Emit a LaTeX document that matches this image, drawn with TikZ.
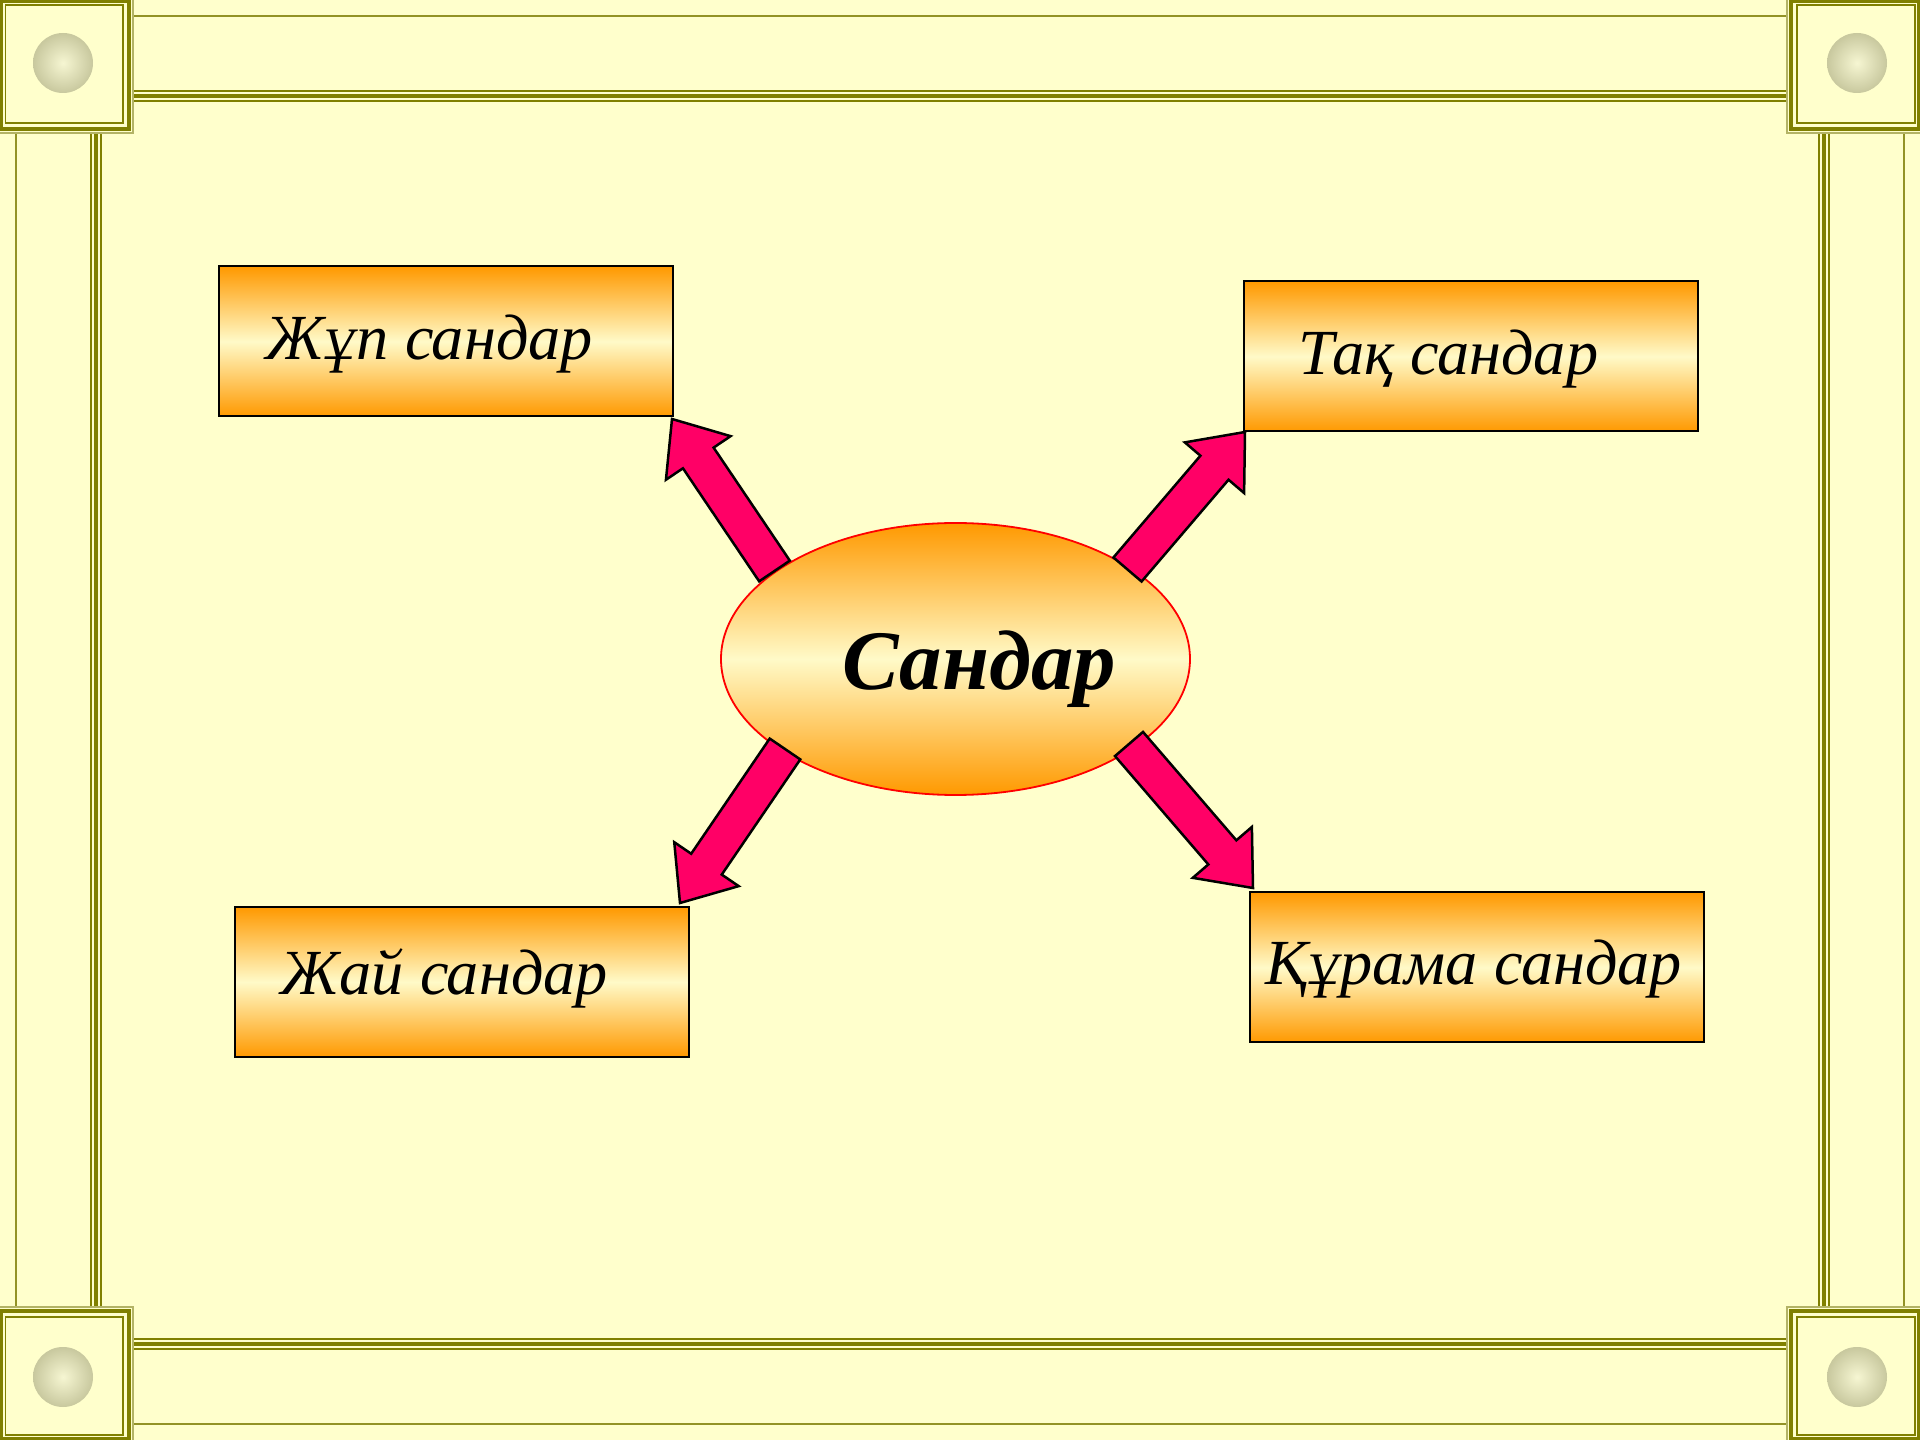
\documentclass[tikz,border=0pt]{standalone}
\usepackage{fontspec}
\setmainfont{Liberation Serif}
\usetikzlibrary{calc,shapes.geometric}
\definecolor{bgy}{RGB}{255,255,204}
\definecolor{olivec}{RGB}{128,128,0}
\definecolor{orng}{RGB}{255,153,0}
\definecolor{pale}{RGB}{255,250,200}
\definecolor{pinkar}{RGB}{255,0,102}
\definecolor{ballin}{RGB}{246,246,210}
\definecolor{ballout}{RGB}{200,200,158}
\tikzset{
  box/.style={rectangle, draw=black, line width=0.2mm, minimum width=45.4mm, minimum height=15.0mm,
    inner sep=0pt, top color=orng, bottom color=orng, middle color=pale},
  hub/.style={ellipse, draw=red, line width=0.18mm, minimum width=46.9mm, minimum height=27.2mm,
    inner sep=0pt, top color=orng, bottom color=orng, middle color=pale},
  lbl/.style={font=\itshape\fontsize{18.3}{20}\selectfont, inner sep=0pt, anchor=base west},
  hublbl/.style={font=\bfseries\itshape\fontsize{24.1}{28}\selectfont, inner sep=0pt, anchor=base west},
  arrowstyle/.style={fill=pinkar, draw=black, line width=0.25mm, line join=miter},
  thinline/.style={draw=olivec!85, line width=0.2mm},
  fline/.style={draw=olivec, line width=0.17mm},
  thickline/.style={draw=olivec, line width=0.42mm},
}
\newcommand{\blockarr}[2]{%
  \path ($(#2)!0.47cm!(#1)$) coordinate (#1h);
  \filldraw[arrowstyle] ($(#1)!0.185cm!90:(#2)$) -- ($(#1h)!0.185cm!90:(#2)$)
     -- ($(#1h)!0.39cm!90:(#2)$) -- (#2) -- ($(#1h)!0.39cm!-90:(#2)$)
     -- ($(#1h)!0.185cm!-90:(#2)$) -- ($(#1)!0.185cm!-90:(#2)$) -- cycle;
}
\newcommand{\cornerpiece}{%
  \fill[bgy] (0,0) rectangle (133,133);
  \draw[draw=olivec, line width=0.35mm] (1.5,1.5) rectangle (129,129);
  \draw[draw=olivec, line width=0.2mm] (5.5,5.5) rectangle (123,123);
  \draw[draw=olivec!60, line width=0.2mm] (133,0) -- (133,133) -- (0,133);
  \shade[inner color=ballin, outer color=ballout] (63,63) circle (3mm);
}
\begin{document}
\begin{tikzpicture}[x=0.1mm, y=-0.1mm]
\useasboundingbox (0,0) rectangle (1920,1440);
\fill[bgy] (0,0) rectangle (1920,1440);
% frame lines
\draw[thinline] (16,133) -- (16,1307);
\draw[thinline] (1904,133) -- (1904,1307);
\draw[thinline] (133,16) -- (1787,16);
\draw[thinline] (133,1424) -- (1787,1424);
\foreach \p/\s in {91/fline,96/thickline,101/fline}{
  \draw[\s] (\p,133) -- (\p,1307);
  \draw[\s] (133,\p) -- (1787,\p);
}
\foreach \p/\s in {1829/fline,1824/thickline,1819/fline}{
  \draw[\s] (\p,133) -- (\p,1307);
}
\foreach \p/\s in {1349/fline,1344/thickline,1339/fline}{
  \draw[\s] (133,\p) -- (1787,\p);
}
% corners
\begin{scope}\cornerpiece\end{scope}
\begin{scope}[shift={(1920,0)}, xscale=-1]\cornerpiece\end{scope}
\begin{scope}[shift={(0,1440)}, yscale=-1]\cornerpiece\end{scope}
\begin{scope}[shift={(1920,1440)}, xscale=-1, yscale=-1]\cornerpiece\end{scope}
% boxes
\node[box] (b1) at (445.5,341.5) {};
\node[box] (b2) at (1470.5,356.5) {};
\node[box] (b3) at (461.5,982) {};
\node[box] (b4) at (1476.5,967.5) {};
\node[lbl] (l1) at (265,360) {Жұп сандар};
\node[lbl] (l2) at (1298,375) {Тақ сандар};
\node[lbl] (l3) at (280,995) {Жай сандар};
\node[lbl] (l4) at (1265,985) {Құрама сандар};
% hub
\node[hub] (hub) at (955.5,659) {};
\node[hublbl] (hl) at (842,690) {Сандар};
% arrows
\coordinate (ta) at (774.5,571); \coordinate (pa) at (672,419);
\coordinate (tb) at (1127.5,569.5); \coordinate (pb) at (1245,432);
\coordinate (tc) at (785,749); \coordinate (pc) at (680,903);
\coordinate (td) at (1129,744); \coordinate (pd) at (1253,888);
\blockarr{ta}{pa}
\blockarr{tb}{pb}
\blockarr{tc}{pc}
\blockarr{td}{pd}
\end{tikzpicture}
\end{document}
